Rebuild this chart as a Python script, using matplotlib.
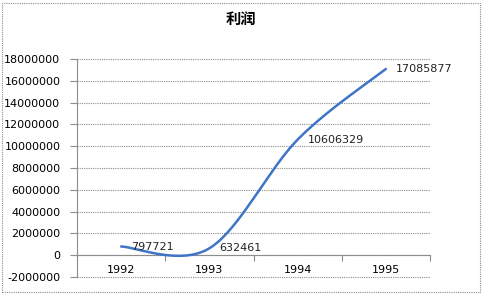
import matplotlib
matplotlib.use("Agg")
import matplotlib.pyplot as plt
from matplotlib.patches import Rectangle
import numpy as np

plt.rcParams['font.family'] = ['DejaVu Sans', 'Noto Sans CJK SC']

title = "利润"
years = ["1992", "1993", "1994", "1995"]
profit = [797721, 632461, 10606329, 17085877]
yticks = list(range(-2000000, 18000001, 2000000))


def smooth(xs, ys, n=60):
    # excel-like bezier smoothing (catmull-rom, tension 1/6)
    pts = np.column_stack([xs, ys]).astype(float)
    P = np.vstack([pts[0], pts, pts[-1]])
    out = []
    for i in range(1, len(P) - 2):
        p0, p1, p2, p3 = P[i - 1], P[i], P[i + 1], P[i + 2]
        c1 = p1 + (p2 - p0) / 6
        c2 = p2 - (p3 - p1) / 6
        t = np.linspace(0, 1, n)[:, None]
        seg = (1 - t) ** 3 * p1 + 3 * (1 - t) ** 2 * t * c1 + 3 * (1 - t) * t ** 2 * c2 + t ** 3 * p2
        out.append(seg)
    out = np.vstack(out)
    return out[:, 0], out[:, 1]


fig = plt.figure(figsize=(4.83, 2.94), dpi=100)
ax = fig.add_axes([77 / 483, 1 - 277 / 294, (430 - 77) / 483, (277 - 59) / 294])

x = np.arange(len(years))
sx, sy = smooth(x, profit)
ax.plot(sx, sy, color="#3F74C6", lw=1.8, solid_capstyle="round", zorder=3)

for xi, v in zip(x, profit):
    ax.annotate(str(v), (xi, v), xytext=(7, 0), textcoords="offset points",
                ha="left", va="center", fontsize=8, color="#222222", zorder=4)

ax.set_xlim(-0.5, len(years) - 0.5)
ax.set_ylim(yticks[0], yticks[-1])
ax.set_yticks(yticks)
ax.set_yticklabels([str(t) for t in yticks])
ax.yaxis.grid(True, linestyle=(0, (1, 1)), color="#8c8c8c", lw=0.8)
for gl in ax.get_ygridlines():
    gl.set_clip_on(False)
ax.set_axisbelow(True)

ax.set_xticks(np.arange(-0.5, len(years), 1))
ax.set_xticklabels([])
ax.set_xticks(x, minor=True)
ax.set_xticklabels(years, minor=True)
ax.tick_params(axis="x", which="minor", length=0, pad=7, labelsize=8)
ax.tick_params(axis="x", which="major", length=4, color="#8c8c8c", direction="out")
ax.tick_params(axis="y", length=5, color="#8c8c8c", pad=7, labelsize=8)

ax.spines["bottom"].set_position(("data", 0))
ax.spines["bottom"].set_color("#8c8c8c")
ax.spines["left"].set_color("#8c8c8c")
ax.spines["left"].set_linestyle((0, (1, 1)))
ax.spines["top"].set_visible(False)
ax.spines["right"].set_visible(False)

fig.text(241 / 483, 1 - 19 / 294, title, ha="center", va="center", fontsize=11,
         fontweight="bold", family=["Noto Sans CJK SC", "DejaVu Sans"])

fig.patches.append(Rectangle((2 / 483, 2 / 294), 478 / 483, 289 / 294, transform=fig.transFigure,
                             fill=False, edgecolor="#8c8c8c", lw=0.8, linestyle=(0, (1, 1))))

fig.savefig("out.png", dpi=100)
